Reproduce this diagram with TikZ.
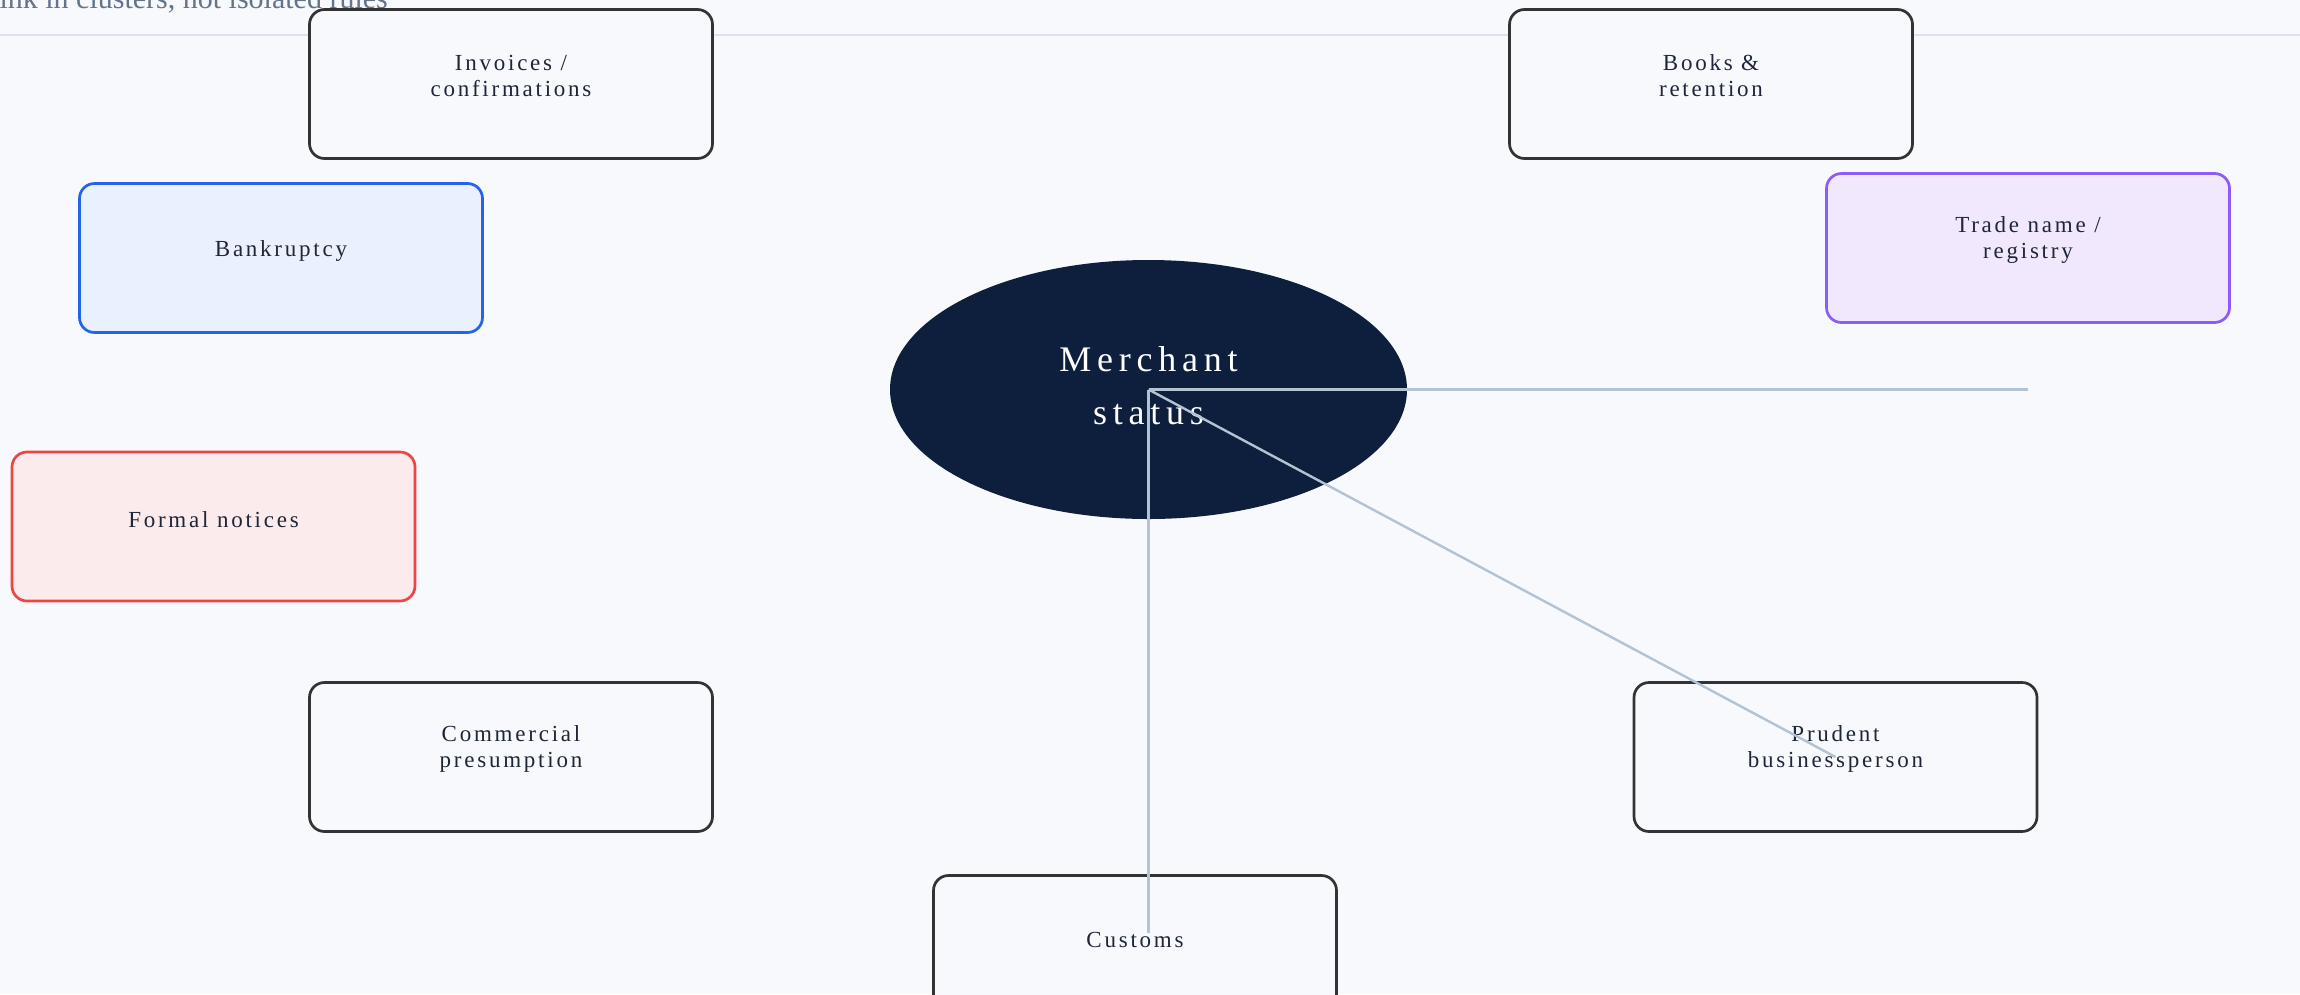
\documentclass[tikz,border=0pt]{standalone}
\usepackage{fontspec}
\setmainfont{Liberation Serif}
\newfontfamily\boxfont[LetterSpace=12]{Liberation Serif}
\newfontfamily\hubfont[LetterSpace=16]{Liberation Serif}
\usetikzlibrary{shapes.geometric}
\definecolor{bgcol}{HTML}{F7F9FC}
\definecolor{rulecol}{HTML}{DCE3EC}
\definecolor{titlecol}{HTML}{64748B}
\definecolor{boxline}{HTML}{333333}
\definecolor{txtcol}{HTML}{1E2638}
\definecolor{bankfill}{HTML}{EAF1FE}
\definecolor{bankline}{HTML}{2563EB}
\definecolor{tradefill}{HTML}{F2E8FE}
\definecolor{tradeline}{HTML}{8B5CF6}
\definecolor{formfill}{HTML}{FCEBEC}
\definecolor{formline}{HTML}{EF4444}
\definecolor{hubfill}{HTML}{0D1F3C}
\definecolor{edgecol}{HTML}{B4C3D3}
\tikzset{
  topicbox/.style={draw=boxline, fill=bgcol, line width=2.7, rounded corners=15,
    minimum width=403, minimum height=149, inner sep=0},
  bluebox/.style={topicbox, draw=bankline, fill=bankfill},
  purplebox/.style={topicbox, draw=tradeline, fill=tradefill},
  redbox/.style={topicbox, draw=formline, fill=formfill},
  boxtext/.style={align=center, text=txtcol, inner sep=0,
    font=\boxfont\fontsize{23}{26}\selectfont},
  hub/.style={ellipse, fill=hubfill, minimum width=517, minimum height=259, inner sep=0},
  hubtext/.style={align=center, text=white, inner sep=0,
    font=\hubfont\fontsize{36}{53}\selectfont},
  link/.style={draw=edgecol, line width=2.4},
  titletext/.style={text=titlecol, inner sep=0, anchor=base west,
    font=\fontsize{30}{34}\selectfont}
}
\begin{document}
\begin{tikzpicture}[x=1pt, y=-1pt]
\useasboundingbox (0,0) rectangle (2300,994);
\clip (0,0) rectangle (2300,994);
\fill[bgcol] (0,0) rectangle (2300,994);
\node[titletext] (title) at (-34,8) {Think in clusters, not isolated rules};
\coordinate (ruleL) at (0,35);
\coordinate (ruleR) at (2300,35);
\draw[rulecol, line width=2.2] (ruleL) -- (ruleR);

\node[topicbox] (inv) at (511,84) {};
\node[boxtext] (invT) at ([yshift=8]inv.center) {Invoices /\\confirmations};
\node[topicbox] (books) at (1711,84) {};
\node[boxtext] (booksT) at ([yshift=8]books.center) {Books \&\\retention};
\node[bluebox] (bank) at (281,258) {};
\node[boxtext] (bankT) at ([yshift=7]bank.center) {Bankruptcy};
\node[purplebox] (trade) at (2028,248) {};
\node[boxtext] (tradeT) at ([yshift=8]trade.center) {Trade name /\\registry};
\node[redbox] (formal) at (213.5,526.5) {};
\node[boxtext] (formalT) at ([yshift=7]formal.center) {Formal notices};
\node[topicbox] (comm) at (511,757) {};
\node[boxtext] (commT) at ([yshift=8]comm.center) {Commercial\\presumption};
\node[topicbox] (prud) at (1835.5,757) {};
\node[boxtext] (prudT) at ([yshift=8]prud.center) {Prudent\\businessperson};
\node[topicbox] (cust) at (1135,950) {};
\node[boxtext] (custT) at ([yshift=10]cust.center) {Customs};

\node[hub] (hub) at (1148.5,389.5) {};
\node[hubtext] (hubT) at ([yshift=4]hub.center) {Merchant\\status};

\coordinate (endR) at (2028,389.5);
\coordinate (endD) at (1148.5,933);
\draw[link] (hub.center) -- (endR);
\draw[link] (hub.center) -- (prud.center);
\draw[link] (hub.center) -- (endD);
\end{tikzpicture}
\end{document}
